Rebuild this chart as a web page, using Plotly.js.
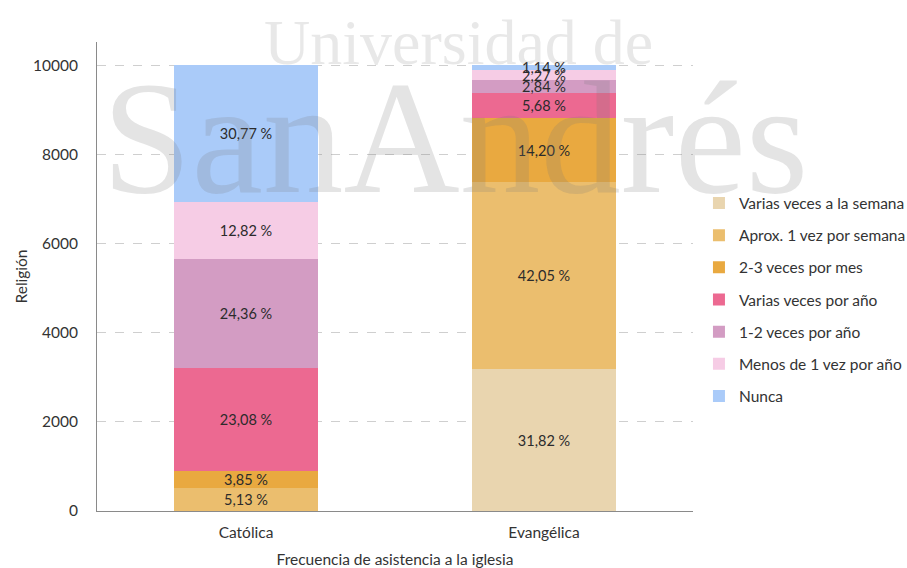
<!DOCTYPE html>
<html>
<head>
<meta charset="utf-8">
<script src="https://cdn.plot.ly/plotly-3.0.1.min.js"></script>
<style>html,body{margin:0;padding:0;background:#fff;}#chart{width:907px;height:568px;}</style>
</head>
<body>
<div id="chart"></div>
<script>
// Categories (x axis)
const categories = ["Católica", "Evangélica"];

// Series names (bottom to top of the stack)
const seriesNames = [
  "Varias veces a la semana",
  "Aprox. 1 vez por semana",
  "2-3 veces por mes",
  "Varias veces por año",
  "1-2 veces por año",
  "Menos de 1 vez por año",
  "Nunca"
];

// Percentages per series: [Católica, Evangélica]
const variasSemana   = [0.00, 31.82];
const aproxSemana    = [5.13, 42.05];
const dosTresMes     = [3.85, 14.20];
const variasAnio     = [23.08, 5.68];
const unoDosAnio     = [24.36, 2.84];
const menosUnaAnio   = [12.82, 2.27];
const nunca          = [30.77, 1.14];

const seriesValues = [variasSemana, aproxSemana, dosTresMes, variasAnio, unoDosAnio, menosUnaAnio, nunca];

const colors = ["#E9D5AF", "#EBBE6E", "#E9A940", "#EC6991", "#D39CC3", "#F6CCE5", "#AACBF9"];

const yTicks = [0, 2000, 4000, 6000, 8000, 10000];

const fontFam = "Lato, 'Open Sans', sans-serif";
const fs = 15.5;

const traces = seriesNames.map((name, i) => ({
  type: "bar",
  name: name,
  x: categories,
  y: seriesValues[i].map(v => v * 100),
  text: seriesValues[i].map(v => v > 0 ? v.toFixed(2).replace(".", ",") + " %" : ""),
  textposition: "inside",
  insidetextanchor: "middle",
  constraintext: "none",
  textangle: 0,
  textfont: {family: fontFam, size: 14.5, color: "#2b2b2b"},
  marker: {color: colors[i], line: {width: 0}},
  legendgroup: "g" + i,
  hoverinfo: "none"
}));

const layout = {
  width: 907,
  height: 568,
  margin: {l: 97, r: 214, t: 42, b: 57, autoexpand: false},
  paper_bgcolor: "#ffffff",
  plot_bgcolor: "#ffffff",
  barmode: "stack",
  bargap: 0.52,
  font: {family: fontFam, size: fs, color: "#333333"},
  showlegend: true,
  legend: {
    x: 1.01, xanchor: "left",
    y: 0.45, yanchor: "middle",
    traceorder: "grouped",
    tracegroupgap: 9,
    font: {family: fontFam, size: fs, color: "#333333"},
    bgcolor: "rgba(0,0,0,0)"
  },
  xaxis: {
    type: "category",
    showgrid: false,
    showline: true,
    linecolor: "#8a8a8a",
    linewidth: 1,
    ticks: "outside",
    ticklen: 7,
    tickcolor: "rgba(0,0,0,0)",
    tickfont: {family: fontFam, size: fs, color: "#333333"},
    title: {text: "Frecuencia de asistencia a la iglesia", font: {family: fontFam, size: fs, color: "#333333"}, standoff: 14},
    zeroline: false
  },
  yaxis: {
    range: [0, 10520],
    tickvals: yTicks,
    ticktext: yTicks.map(String),
    showgrid: true,
    gridcolor: "#cfcfcf",
    griddash: "dash",
    gridwidth: 1,
    showline: true,
    linecolor: "#8a8a8a",
    linewidth: 1,
    zeroline: false,
    ticks: "outside",
    ticklen: 15,
    tickcolor: "rgba(0,0,0,0)",
    tickfont: {family: fontFam, size: fs, color: "#333333"},
    title: {text: "Religión", font: {family: fontFam, size: fs, color: "#333333"}, standoff: 1}
  },
  annotations: [
    {
      text: "Universidad de",
      xref: "paper", yref: "paper",
      x: 0.606, y: 1.0, xanchor: "center", yanchor: "middle",
      showarrow: false,
      font: {family: "'Liberation Serif', 'DejaVu Serif', serif", size: 64, color: "rgba(120,120,120,0.17)"}
    },
    {
      text: "SanAndrés",
      xref: "paper", yref: "paper",
      x: 0.601, y: 0.795, xanchor: "center", yanchor: "middle",
      showarrow: false,
      font: {family: "'Liberation Serif', 'DejaVu Serif', serif", size: 161, color: "rgba(120,120,120,0.2)"}
    }
  ]
};

Plotly.newPlot("chart", traces, layout, {displayModeBar: false, staticPlot: true});
</script>
</body>
</html>
